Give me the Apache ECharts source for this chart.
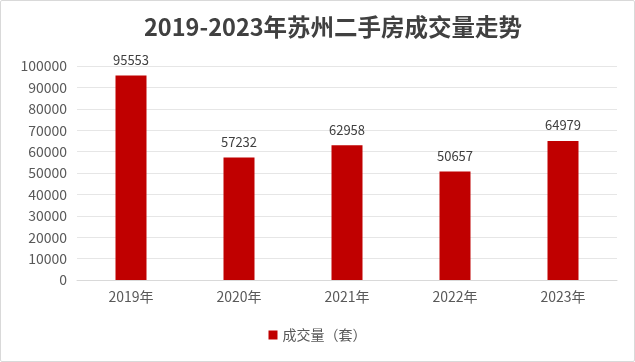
<!DOCTYPE html>
<html><head><meta charset="utf-8">
<script src="https://cdn.jsdelivr.net/npm/echarts@6/dist/echarts.min.js"></script>
<style>
html,body{margin:0;padding:0;background:#fff;}
#wrap{position:absolute;left:0;top:0;width:633px;height:360px;border:1px solid #d9d9d9;border-radius:2px;}
#c{width:633px;height:360px;}
</style></head>
<body><div id="wrap"><div id="c"></div></div>
<script>
var categories = ['2019年','2020年','2021年','2022年','2023年'];
var values = [95553, 57232, 62958, 50657, 64979];
var seriesName = '成交量（套）';
var titleText = '2019-2023年苏州二手房成交量走势';

var chart = echarts.init(document.getElementById('c'), null, {renderer:'canvas'});
var font = '"Noto Sans CJK SC","Noto Sans",sans-serif';
chart.setOption({
  animation:false,
  title:{text:titleText,left:138,top:9,textStyle:{fontFamily:font,fontSize:23.5,fontWeight:'bold',color:'#404040'}},
  grid:{left:76,right:17,top:65,bottom:81},
  legend:{bottom:14,left:'center',itemWidth:9,itemHeight:9,icon:'rect',itemGap:10,
    textStyle:{fontFamily:font,fontSize:14,color:'#595959'}},
  xAxis:{type:'category',data:categories,
    axisLine:{lineStyle:{color:'#d9d9d9'}},axisTick:{show:false},
    axisLabel:{fontFamily:font,fontSize:14,color:'#595959',margin:10}},
  yAxis:{type:'value',min:0,max:100000,interval:10000,
    axisLine:{show:false},axisTick:{show:false},
    splitLine:{lineStyle:{color:'#e6e6e6'}},
    axisLabel:{fontFamily:font,fontSize:14,color:'#595959',margin:10,formatter:function(v){return String(v);}}},
  series:[{name:seriesName,type:'bar',data:values,barWidth:31,
    itemStyle:{color:'#c00000'},
    label:{show:true,position:'top',distance:9,fontFamily:font,fontSize:13,color:'#404040'}}]
});
</script></body></html>
